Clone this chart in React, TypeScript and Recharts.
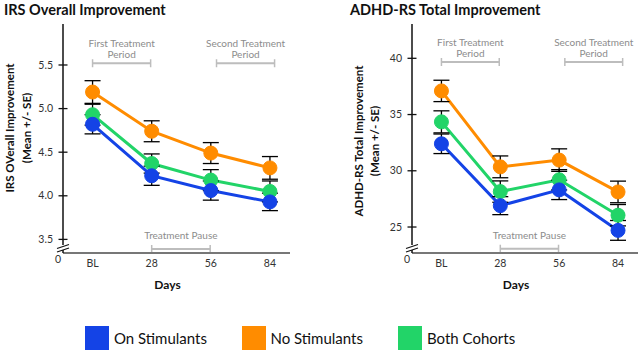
import React from "react";
import { LineChart, Line, XAxis, YAxis, ErrorBar, ReferenceLine } from "recharts";

// study visits (days), BL = baseline
const days = [0, 28, 56, 84];
const dayLabels = ["BL", "28", "56", "84"];

const seriesKeys = ["no", "both", "on"]; // draw order: orange, green, blue on top
const seriesNames: Record<string, string> = { on: "On Stimulants", no: "No Stimulants", both: "Both Cohorts" };
const seriesColors: Record<string, string> = { on: "#1443e6", no: "#ff8c00", both: "#22d468" };
const legendOrder = ["on", "no", "both"];

// IRS overall improvement, mean and SE
const irsOn = [4.82, 4.23, 4.06, 3.93];
const irsOnSE = [0.11, 0.11, 0.11, 0.1];
const irsNo = [5.19, 4.74, 4.49, 4.32];
const irsNoSE = [0.13, 0.12, 0.12, 0.13];
const irsBoth = [4.93, 4.37, 4.18, 4.05];
const irsBothSE = [0.12, 0.11, 0.12, 0.12];
const irsTicks = [3.5, 4.0, 4.5, 5.0, 5.5];

// ADHD-RS total improvement, mean and SE
const adhdOn = [32.4, 26.9, 28.3, 24.7];
const adhdOnSE = [0.87, 0.8, 0.86, 0.88];
const adhdNo = [37.1, 30.35, 30.95, 28.12];
const adhdNoSE = [0.95, 0.97, 1.0, 0.96];
const adhdBoth = [34.35, 28.15, 29.2, 26.05];
const adhdBothSE = [0.98, 0.95, 0.9, 0.95];
const adhdTicks = [25, 30, 35, 40];

// study phases, in days
const firstPeriod = [0, 27.5];
const secondPeriod = [58.7, 86.2];
const pausePeriod = [28, 55.7];

const FONT = "Lato, 'Open Sans', sans-serif";

function buildRows(on: number[], onSE: number[], no: number[], noSE: number[], both: number[], bothSE: number[]) {
  return days.map((d, i) => ({
    day: d,
    on: on[i], onErr: onSE[i],
    no: no[i], noErr: noSE[i],
    both: both[i], bothErr: bothSE[i],
  }));
}

const irsRows = buildRows(irsOn, irsOnSE, irsNo, irsNoSE, irsBoth, irsBothSE);
const adhdRows = buildRows(adhdOn, adhdOnSE, adhdNo, adhdNoSE, adhdBoth, adhdBothSE);

function bracketShape(lines: string[], textOffset: number) {
  return (p: any) => {
    const { x1, x2, y1 } = p;
    const cx = (x1 + x2) / 2;
    return (
      <g>
        <line x1={x1} x2={x2} y1={y1} y2={y1} stroke="#bdbdbd" strokeWidth={2} />
        <line x1={x1} x2={x1} y1={y1 - 4} y2={y1 + 4} stroke="#bdbdbd" strokeWidth={1.5} />
        <line x1={x2} x2={x2} y1={y1 - 4} y2={y1 + 4} stroke="#bdbdbd" strokeWidth={1.5} />
        {lines.map((t, i) => (
          <text key={i} x={cx} y={y1 + textOffset + i * 10.8} textAnchor="middle" fontSize={10} fill="#8c8c8c" fontFamily={FONT}>
            {t}
          </text>
        ))}
      </g>
    );
  };
}

function makeYTick(min: number, fmt: (v: number) => string) {
  return (p: any) => {
    const { x, y, payload } = p;
    if (payload.value === min) {
      return (
        <g>
          <rect x={x - 2} y={y - 8} width={4} height={5} fill="#fff" />
          <line x1={x - 6} y1={y - 4.5} x2={x + 6} y2={y - 8.5} stroke="#111" strokeWidth={1.2} />
          <line x1={x - 6} y1={y - 1} x2={x + 6} y2={y - 5} stroke="#111" strokeWidth={1.2} />
          <text x={x - 5} y={y + 10} textAnchor="middle" fontSize={10.5} fill="#333" fontFamily={FONT}>0</text>
        </g>
      );
    }
    return (
      <g>
        <line x1={x - 4.5} x2={x + 4.5} y1={y} y2={y} stroke="#111" strokeWidth={1.3} />
        <text x={x - 10} y={y + 3.7} textAnchor="end" fontSize={10.5} fill="#333" fontFamily={FONT}>
          {fmt(payload.value)}
        </text>
      </g>
    );
  };
}

interface PanelProps {
  left: number;
  width: number;
  yAxisWidth: number;
  marginRight: number;
  title: string;
  titleLeft: number;
  yLabel: string[];
  yLabelX: number[];
  yLabelCy: number;
  rows: any[];
  domain: [number, number];
  ticks: number[];
  fmt: (v: number) => string;
  bracketY: number;
  pauseY: number;
}

function Panel(props: PanelProps) {
  const { domain, ticks, rows } = props;
  return (
    <>
      <div
        style={{
          position: "absolute",
          left: props.titleLeft,
          top: 1,
          fontFamily: FONT,
          fontWeight: 700,
          fontSize: 14.5,
          color: "#111",
          whiteSpace: "nowrap",
        }}
      >
        {props.title}
      </div>
      <div style={{ position: "absolute", left: props.left, top: 0 }}>
        <LineChart
          width={props.width}
          height={300}
          data={rows}
          margin={{ top: 24, right: props.marginRight, left: 0, bottom: 17 }}
        >
          <XAxis
            dataKey="day"
            type="number"
            domain={[-14, 93.5]}
            ticks={days}
            interval={0}
            allowDataOverflow
            tickFormatter={(v: number) => dayLabels[days.indexOf(v)]}
            axisLine={{ stroke: "#777", strokeWidth: 2 }}
            tickLine={false}
            tickSize={0}
            tickMargin={7}
            height={30}
            tick={{ fontSize: 10.5, fill: "#333", fontFamily: FONT }}
            label={(lp: any) => {
              const vb = lp.viewBox;
              return (
                <text x={vb.x + vb.width / 2 - 9} y={vb.y + 36} textAnchor="middle" fontSize={12} fontWeight={700} fill="#111" fontFamily={FONT}>
                  Days
                </text>
              );
            }}
          />
          <YAxis
            type="number"
            domain={domain}
            ticks={[domain[0], ...ticks]}
            interval={0}
            allowDataOverflow
            width={props.yAxisWidth}
            axisLine={{ stroke: "#111", strokeWidth: 1.5 }}
            tickLine={false}
            tickSize={0}
            tickMargin={0}
            tick={makeYTick(domain[0], props.fmt)}
            label={() => (
              <g>
                {props.yLabel.map((t, i) => (
                  <text
                    key={i}
                    x={props.yLabelX[i]}
                    y={props.yLabelCy}
                    transform={`rotate(-90, ${props.yLabelX[i]}, ${props.yLabelCy})`}
                    textAnchor="middle"
                    dominantBaseline="central"
                    fontSize={11.5}
                    fontWeight={700}
                    fill="#111"
                    fontFamily={FONT}
                  >
                    {t}
                  </text>
                ))}
              </g>
            )}
          />
          <ReferenceLine
            segment={[{ x: firstPeriod[0], y: props.bracketY }, { x: firstPeriod[1], y: props.bracketY }]}
            ifOverflow="visible"
            shape={bracketShape(["First Treatment", "Period"], -16)}
          />
          <ReferenceLine
            segment={[{ x: secondPeriod[0], y: props.bracketY }, { x: secondPeriod[1], y: props.bracketY }]}
            ifOverflow="visible"
            shape={bracketShape(["Second Treatment", "Period"], -16)}
          />
          <ReferenceLine
            segment={[{ x: pausePeriod[0], y: props.pauseY }, { x: pausePeriod[1], y: props.pauseY }]}
            ifOverflow="visible"
            shape={bracketShape(["Treatment Pause"], -10)}
          />
          {seriesKeys.map((k) => (
            <Line
              key={k}
              dataKey={k}
              type="linear"
              stroke={seriesColors[k]}
              strokeWidth={3}
              dot={{ r: 7, fill: seriesColors[k], stroke: seriesColors[k], strokeWidth: 1 }}
              activeDot={false}
              isAnimationActive={false}
            />
          ))}
          {seriesKeys.map((k) => (
            <Line
              key={k + "-err"}
              dataKey={k}
              type="linear"
              stroke="none"
              dot={false}
              activeDot={false}
              isAnimationActive={false}
            >
              <ErrorBar dataKey={k + "Err"} width={8} stroke="#000" strokeWidth={1.3} direction="y" />
            </Line>
          ))}
        </LineChart>
      </div>
    </>
  );
}

export default function App() {
  return (
    <div
      style={{
        position: "absolute",
        left: 0,
        top: 0,
        width: 639,
        height: 352,
        overflow: "hidden",
        background: "#fff",
        fontFamily: FONT,
      }}
    >
      <Panel
        left={0}
        width={320}
        yAxisWidth={63}
        marginRight={30}
        title="IRS Overall Improvement"
        titleLeft={4}
        yLabel={["IRS OVerall Improvement", "(Mean +/- SE)"]}
        yLabelX={[9, 26]}
        yLabelCy={128}
        rows={irsRows}
        domain={[3.344, 5.97]}
        ticks={irsTicks}
        fmt={(v) => v.toFixed(1)}
        bracketY={5.52}
        pauseY={3.39}
      />
      <Panel
        left={320}
        width={319}
        yAxisWidth={92}
        marginRight={1}
        title="ADHD-RS Total Improvement"
        titleLeft={350}
        yLabel={["ADHD-RS Total Improvement", "(Mean +/- SE)"]}
        yLabelX={[38, 54]}
        yLabelCy={141}
        rows={adhdRows}
        domain={[22.69, 43.05]}
        ticks={adhdTicks}
        fmt={(v) => String(v)}
        bracketY={39.67}
        pauseY={23.07}
      />
      <div style={{ position: "absolute", left: 85, top: 326, display: "flex" }}>
        {legendOrder.map((k) => (
          <div key={k} style={{ width: 156.5, display: "flex", alignItems: "center" }}>
            <div style={{ width: 24, height: 24, background: seriesColors[k], flexShrink: 0 }} />
            <span style={{ marginLeft: 5, fontSize: 15, color: "#111", whiteSpace: "nowrap" }}>{seriesNames[k]}</span>
          </div>
        ))}
      </div>
    </div>
  );
}
